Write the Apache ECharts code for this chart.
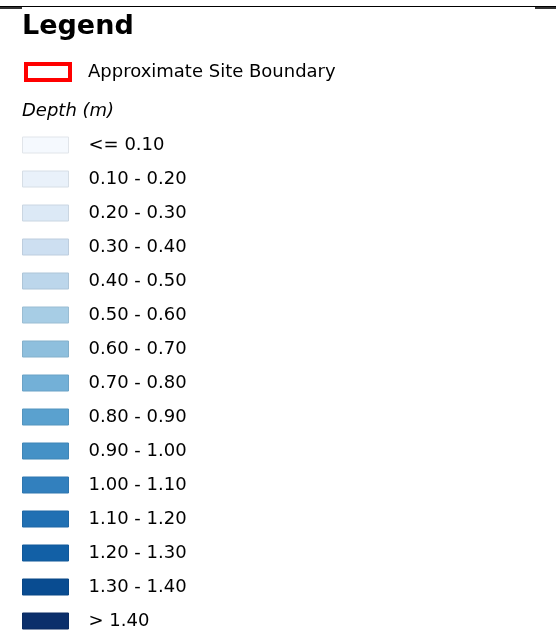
<!DOCTYPE html>
<html>
<head>
<meta charset="utf-8">
<script src="https://cdn.jsdelivr.net/npm/echarts@6/dist/echarts.min.js"></script>
<style>
html,body{margin:0;padding:0;background:#fff;}
#chart{width:556px;height:641px;}
</style>
</head>
<body>
<div id="chart"></div>
<script>
var titleText = 'Legend';
var boundaryLabel = 'Approximate Site Boundary';
var groupTitle = 'Depth (m)';
var depthLabels = ['<= 0.10','0.10 - 0.20','0.20 - 0.30','0.30 - 0.40','0.40 - 0.50','0.50 - 0.60','0.60 - 0.70','0.70 - 0.80','0.80 - 0.90','0.90 - 1.00','1.00 - 1.10','1.10 - 1.20','1.20 - 1.30','1.30 - 1.40','> 1.40'];
var depthColors = ['#f5f9fe','#e9f1fa','#dce9f6','#cddff1','#bcd6eb','#a7cde5','#8ebfdd','#73b0d7','#5aa1cf','#4591c6','#3280be','#2170b3','#1260a6','#094c91','#0b2f6b'];

function darken(hex, f){
  var r=parseInt(hex.substr(1,2),16),g=parseInt(hex.substr(3,2),16),b=parseInt(hex.substr(5,2),16);
  return 'rgb('+Math.round(r*f)+','+Math.round(g*f)+','+Math.round(b*f)+')';
}

var series = [{
  name: boundaryLabel, type: 'bar', data: [],
  itemStyle: {color: '#ffffff', borderColor: '#ff0000', borderWidth: 4}
}];
depthLabels.forEach(function(l, i){
  series.push({name: l, type: 'bar', data: [],
    itemStyle: {color: depthColors[i], borderColor: darken(depthColors[i], 0.92), borderWidth: 1}});
});

var chart = echarts.init(document.getElementById('chart'), null, {renderer: 'canvas'});
chart.setOption({
  animation: false,
  backgroundColor: '#ffffff',
  grid: {left: 0, top: 0, width: 1, height: 1, show: false},
  xAxis: {show: false, type: 'category', data: []},
  yAxis: {show: false, type: 'value'},
  legend: [{
    data: [boundaryLabel],
    orient: 'vertical', left: 24, top: 62, padding: 0,
    itemWidth: 44, itemHeight: 16, icon: 'rect', selectedMode: false,
    itemStyle: {color: '#ffffff', borderColor: '#ff0000', borderWidth: 4},
    textStyle: {fontFamily: 'DejaVu Sans', fontSize: 18, color: '#000', lineHeight: 16, padding: [0,0,0,13]}
  }, {
    data: depthLabels,
    orient: 'vertical', left: 22, top: 136, height: 500, padding: 0,
    itemWidth: 46, itemHeight: 16, itemGap: 16, icon: 'rect', selectedMode: false,
    itemStyle: {borderWidth: 1},
    textStyle: {fontFamily: 'DejaVu Sans', fontSize: 18, color: '#000', lineHeight: 16, padding: [0,0,0,15]}
  }],
  graphic: [
    {type: 'rect', shape: {x: 0, y: 6, width: 556, height: 1}, style: {fill: '#000'}},
    {type: 'rect', shape: {x: 0, y: 7, width: 22, height: 2}, style: {fill: '#333'}},
    {type: 'rect', shape: {x: 535, y: 7, width: 21, height: 2}, style: {fill: '#333'}},
    {type: 'text', left: 22, top: 13, style: {text: titleText, font: 'bold 27px "DejaVu Sans"', fill: '#000'}},
    {type: 'text', left: 22, top: 102, style: {text: groupTitle, font: 'oblique 18px "DejaVu Sans"', fill: '#000'}}
  ],
  series: series
});
</script>
</body>
</html>
